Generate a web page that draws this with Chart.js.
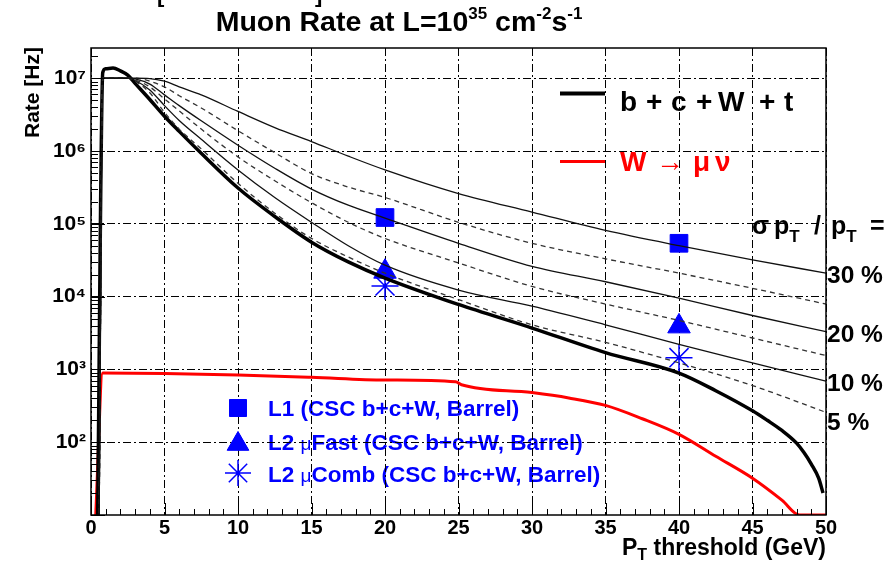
<!DOCTYPE html>
<html>
<head>
<meta charset="utf-8">
<script src="https://cdn.jsdelivr.net/npm/chart.js@4.4.1/dist/chart.umd.min.js"></script>
<style>
  html, body { margin: 0; padding: 0; background: #fff; }
  #wrap { width: 893px; height: 564px; position: relative; }
</style>
</head>
<body>
<div id="wrap"><canvas id="c"></canvas></div>
<script>
const FONT = '"Liberation Sans", Arial, Helvetica, sans-serif';

// pT thresholds (GeV) for the resolution-smeared rate curves
const ptSmeared = [0.55, 0.8, 2.5, 3, 4, 5, 6, 7.5, 10, 12.5, 15, 17.5, 20, 25, 30, 35, 40, 45, 50];
const rate30 = [8, 1.0e7, 1.0e7, 1.0e7, 9.9e6, 9.1e6, 7.6e6, 5.9e6, 3.5e6, 2.1e6, 1.35e6, 8.5e5, 5.5e5, 2.6e5, 1.45e5, 8.1e4, 5.0e4, 3.2e4, 2.1e4];
const rate25 = [8, 1.0e7, 1.0e7, 1.0e7, 9.1e6, 7.6e6, 5.75e6, 3.9e6, 1.9e6, 9.5e5, 4.9e5, 3.2e5, 2.3e5, 1.05e5, 5.4e4, 3.3e4, 2.1e4, 1.3e4, 7.9e3];
const rate20 = [8, 1.0e7, 1.0e7, 9.8e6, 8.3e6, 5.9e6, 4.2e6, 2.6e6, 1.2e6, 5.8e5, 3.0e5, 1.8e5, 1.2e5, 5.4e4, 2.6e4, 1.6e4, 9.5e3, 5.5e3, 3.3e3];
const rate15 = [8, 1.0e7, 1.0e7, 9.5e6, 7.6e6, 5.2e6, 3.55e6, 2.0e6, 8.3e5, 3.9e5, 1.95e5, 1.05e5, 6.3e4, 2.9e4, 1.38e4, 7.9e3, 4.7e3, 2.7e3, 1.55e3];
const rate10 = [8, 1.0e7, 1.0e7, 9.3e6, 6.9e6, 4.2e6, 2.63e6, 1.45e6, 5.5e5, 2.3e5, 1.05e5, 5.0e4, 2.7e4, 1.23e4, 7.4e3, 4.1e3, 2.2e3, 1.23e3, 690];
const rate5  = [8, 1.0e7, 1.0e7, 9.1e6, 6.3e6, 3.4e6, 2.0e6, 1.07e6, 3.6e5, 1.4e5, 6.3e4, 3.5e4, 2.1e4, 9.1e3, 4.1e3, 2.35e3, 1.23e3, 600, 257];

// b + c + W + t total rate
const ptTotal = [0.45, 0.8, 1.0, 1.5, 2.0, 2.5, 3.0, 4.0, 5.0, 6.0, 7.5, 10, 12.5, 15, 17.5, 20, 25, 30, 35, 40, 42.5, 45, 46, 47, 48, 48.5, 49, 49.5, 49.8];
const rateTotal = [8, 1.2e7, 1.35e7, 1.38e7, 1.26e7, 1.1e7, 8.5e6, 5.1e6, 3.0e6, 1.86e6, 9.3e5, 3.1e5, 1.26e5, 5.6e4, 3.0e4, 1.8e4, 7.8e3, 3.7e3, 1.7e3, 890, 510, 270, 200, 145, 97, 72, 50, 32, 20];

// W -> mu nu rate
const ptW = [0.3, 0.8, 5, 10, 15, 20, 24.8, 25.2, 30, 32.5, 35, 37.5, 40, 42.5, 45, 47, 48.2, 50];
const rateW = [8, 890, 880, 840, 780, 715, 675, 615, 480, 405, 320, 210, 128, 64, 32, 16, 10, 10];

// trigger rates at the 20 and 40 GeV thresholds
const ptTrig = [20, 40];
const rateL1 = [1.22e5, 5.4e4];
const rateL2Fast = [2.2e4, 3.9e3];
const rateL2Comb = [1.4e4, 1.45e3];

const xTicks = [0, 5, 10, 15, 20, 25, 30, 35, 40, 45, 50];
const yTicks = [1e2, 1e3, 1e4, 1e5, 1e6, 1e7];
const resolutionLabels = ['30 %', '20 %', '10 %', '5 %'];
const legendTrigger = ['L1 (CSC b+c+W, Barrel)', 'L2 \u03bcFast (CSC b+c+W, Barrel)', 'L2 \u03bcComb (CSC b+c+W, Barrel)'];

const BLUE = '#0000ff';
const SUP = {'0':'\u2070','1':'\u00b9','2':'\u00b2','3':'\u00b3','4':'\u2074','5':'\u2075','6':'\u2076','7':'\u2077','8':'\u2078','9':'\u2079'};

const pts = (xs, ys) => xs.map((x, i) => ({ x, y: ys[i] }));
const thin = (ys, dashed) => ({
  data: pts(ptSmeared, ys), borderColor: dashed ? '#333' : '#111', borderWidth: 1.3,
  borderDash: dashed ? [5, 4] : [], pointRadius: 0, cubicInterpolationMode: 'monotone', fill: false
});
const markers = (ys, style, radius, filled) => ({
  data: pts(ptTrig, ys), showLine: false, pointStyle: style, pointRadius: radius,
  pointBackgroundColor: filled ? BLUE : 'rgba(0,0,0,0)', pointBorderColor: BLUE,
  pointBorderWidth: filled ? 1 : 1.5
});

const dsRes = [thin(rate30, false), thin(rate25, true), thin(rate20, false), thin(rate15, true), thin(rate10, false), thin(rate5, true)];

// rich text: a run of pieces with their own size / vertical shift / optional fixed x
function rich(ctx, parts, x, y, align, color) {
  let w = 0;
  parts.forEach(p => { ctx.font = `${p.w || 'bold'} ${p.s}px ${FONT}`; p._w = ctx.measureText(p.t).width; w += p._w; });
  let cx = align === 'center' ? x - w / 2 : align === 'right' ? x - w : x;
  ctx.fillStyle = color; ctx.textAlign = 'left'; ctx.textBaseline = 'alphabetic';
  parts.forEach(p => {
    ctx.font = `${p.w || 'bold'} ${p.s}px ${FONT}`;
    if (p.at !== undefined) cx = p.at;
    ctx.fillText(p.t, cx, y + (p.dy || 0));
    cx += p._w;
  });
}

function marker(ctx, style, r, x, y, filled) {
  const opts = { pointStyle: style, radius: r, borderWidth: filled ? 1 : 1.5, rotation: 0 };
  ctx.save();
  ctx.fillStyle = BLUE; ctx.strokeStyle = BLUE; ctx.lineWidth = opts.borderWidth;
  Chart.helpers.drawPoint(ctx, opts, x, y);
  if (filled) ctx.fill();
  ctx.restore();
}

const decor = {
  id: 'decor',
  beforeDraw(chart) {
    const ctx = chart.ctx;
    ctx.save();
    ctx.fillStyle = '#fff';
    ctx.fillRect(0, 0, chart.width, chart.height);
    // trigger legend text sits under the grid
    const rows = [416, 450, 482];
    legendTrigger.forEach((t, i) => {
      const k = t.indexOf('\u03bc');
      const parts = k < 0 ? [{ t, s: 22.5 }] :
        [{ t: t.slice(0, k), s: 22.5 }, { t: '\u03bc', s: 19, w: 'normal' }, { t: t.slice(k + 1), s: 22.5 }];
      rich(ctx, parts, 268, rows[i], 'left', BLUE);
    });
    ctx.restore();
  },
  afterDraw(chart) {
    const ctx = chart.ctx;
    const { left, right, top, bottom } = chart.chartArea;
    const xs = chart.scales.x, ys = chart.scales.y;
    ctx.save();
    // frame
    ctx.strokeStyle = '#000'; ctx.lineWidth = 1.5;
    ctx.strokeRect(left, top, right - left, bottom - top);
    // inward tick marks
    ctx.lineWidth = 1;
    ctx.beginPath();
    for (let v = 0; v <= 50; v++) {
      const px = Math.round(xs.getPixelForValue(v)) + 0.5;
      const len = v % 5 === 0 ? 12 : 6;
      ctx.moveTo(px, bottom); ctx.lineTo(px, bottom - len);
    }
    for (let e = 1; e <= 7; e++) {
      for (let m = 1; m <= 9; m++) {
        const v = m * Math.pow(10, e);
        if (v > ys.max) break;
        const py = Math.round(ys.getPixelForValue(v)) + 0.5;
        const len = m === 1 ? 14 : 7;
        ctx.moveTo(left, py); ctx.lineTo(left + len, py);
      }
    }
    ctx.stroke();

    // title
    rich(ctx, [
      { t: 'Muon Rate at L=10', s: 28.5 }, { t: '35', s: 17, dy: -12 },
      { t: ' cm', s: 28.5 }, { t: '-2', s: 17, dy: -12 }, { t: 's', s: 28.5 }, { t: '-1', s: 17, dy: -12 }
    ], 399, 31, 'center', '#000');
    // fragments at the top edge
    ctx.font = `bold 22px ${FONT}`; ctx.fillStyle = '#000'; ctx.textBaseline = 'alphabetic';
    ctx.fillText('[', 157, 2); ctx.fillText(']', 315, 2);

    // axis titles
    rich(ctx, [{ t: 'P', s: 23 }, { t: 'T', s: 16, dy: 5 }, { t: ' threshold (GeV)', s: 23 }], 826, 555, 'right', '#000');
    ctx.save();
    ctx.translate(33, 47); ctx.rotate(-Math.PI / 2);
    ctx.font = `bold 21px ${FONT}`; ctx.textAlign = 'right'; ctx.textBaseline = 'middle'; ctx.fillStyle = '#000';
    ctx.fillText('Rate [Hz]', 0, 0);
    ctx.restore();

    // curve legend, top right
    ctx.lineCap = 'butt';
    ctx.strokeStyle = '#000'; ctx.lineWidth = 4;
    ctx.beginPath(); ctx.moveTo(560, 93.5); ctx.lineTo(605, 93.5); ctx.stroke();
    ctx.strokeStyle = '#ff0000'; ctx.lineWidth = 3;
    ctx.beginPath(); ctx.moveTo(560, 161.5); ctx.lineTo(605, 161.5); ctx.stroke();
    rich(ctx, [{ t: 'b', s: 28 }, { t: '+', s: 28, at: 646 }, { t: 'c', s: 28, at: 671 }, { t: '+', s: 28, at: 696 },
      { t: 'W', s: 28, at: 718 }, { t: '+', s: 28, at: 759 }, { t: 't', s: 28, at: 784 }], 620, 111, 'left', '#000');
    rich(ctx, [{ t: 'W', s: 28 }, { t: '\u2192', s: 28, at: 656 }, { t: '\u03bc', s: 28, at: 693 }, { t: '\u03bd', s: 28, at: 715 }],
      620, 171, 'left', '#ff0000');

    // resolution labels
    rich(ctx, [{ t: '\u03c3', s: 25 }, { t: 'p', s: 25, at: 774 }, { t: 'T', s: 17, dy: 8 }, { t: '/', s: 25, at: 814 },
      { t: 'p', s: 25, at: 831 }, { t: 'T', s: 17, dy: 8 }, { t: '=', s: 25, at: 870 }],
      752, 234, 'left', '#000');
    const resSets = [rate30, rate20, rate10, rate5];
    resolutionLabels.forEach((t, i) => {
      const arr = resSets[i];
      const py = ys.getPixelForValue(arr[arr.length - 1]) + (i === 3 ? 18 : 10);
      rich(ctx, [{ t, s: 24.5 }], 827, py, 'left', '#000');
    });

    // trigger legend markers
    marker(ctx, 'rect', 12, 238, 408, true);
    marker(ctx, 'triangle', 12.5, 238, 444, true);
    marker(ctx, 'star', 13, 238, 473, false);
    ctx.restore();
  }
};

new Chart(document.getElementById('c'), {
  type: 'line',
  data: {
    datasets: [
      ...dsRes,
      { data: pts(ptTotal, rateTotal), borderColor: '#000', borderWidth: 3.5, pointRadius: 0, cubicInterpolationMode: 'monotone' },
      { data: pts(ptW, rateW), borderColor: '#ff0000', borderWidth: 3, pointRadius: 0, cubicInterpolationMode: 'monotone' },
      markers(rateL1, 'rect', 12.5, true),
      markers(rateL2Fast, 'triangle', 13, true),
      markers(rateL2Comb, 'star', 13.5, false)
    ]
  },
  options: {
    responsive: true,
    maintainAspectRatio: false,
    animation: false,
    events: [],
    layout: { padding: { top: 48, right: 67, left: 0, bottom: 0 } },
    plugins: { legend: { display: false }, tooltip: { enabled: false }, title: { display: false } },
    scales: {
      x: {
        type: 'linear', min: 0, max: 50,
        afterBuildTicks: s => { s.ticks = xTicks.map(v => ({ value: v })); },
        afterFit: s => { s.height = 49; },
        grid: { color: '#000', lineWidth: 1, drawTicks: false },
        border: { display: false, dash: [8, 3, 2, 3] },
        ticks: { font: { family: FONT, size: 20, weight: 'bold' }, color: '#000', padding: 1, maxRotation: 0, autoSkip: false }
      },
      y: {
        type: 'logarithmic', min: 10, max: 2.6e7,
        afterBuildTicks: s => { s.ticks = yTicks.map(v => ({ value: v })); },
        afterFit: s => { s.width = 91; },
        grid: { color: '#000', lineWidth: 1, drawTicks: false },
        border: { display: false, dash: [8, 3, 2, 3] },
        ticks: {
          font: { family: FONT, size: 21, weight: 'bold' }, color: '#000', padding: 5, autoSkip: false,
          callback: v => '10' + String(Math.round(Math.log10(v))).split('').map(d => SUP[d]).join('')
        }
      }
    }
  },
  plugins: [decor]
});
</script>
</body>
</html>
